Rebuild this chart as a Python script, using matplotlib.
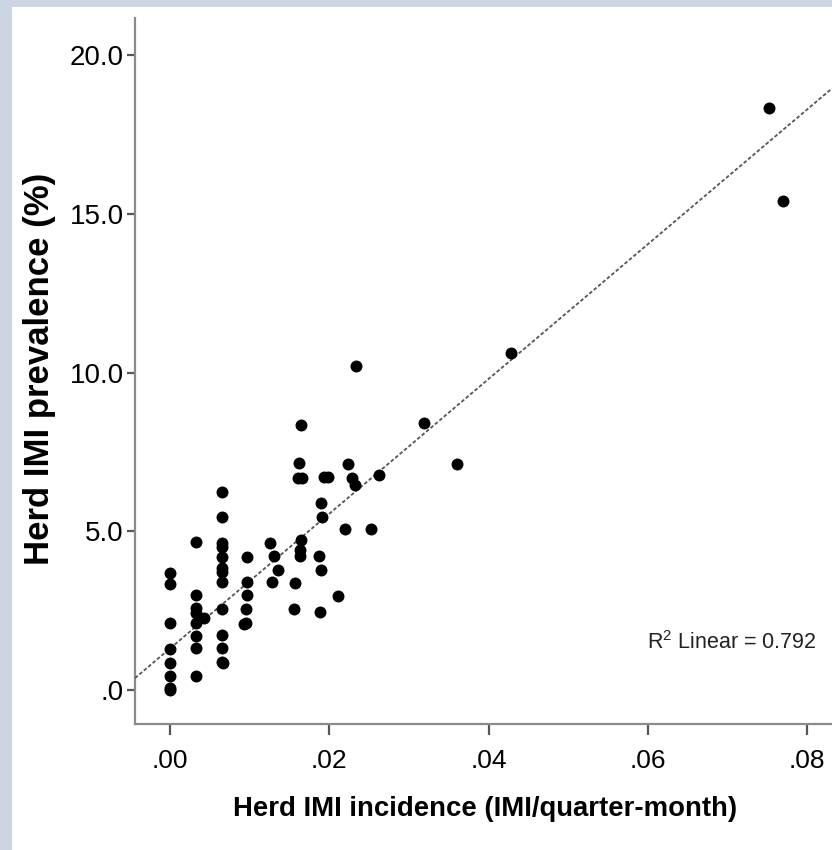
import matplotlib
matplotlib.use("Agg")
import matplotlib.pyplot as plt
from matplotlib.patches import Rectangle
from matplotlib.ticker import FixedLocator
import numpy as np

# Data (incidence, prevalence)
incidence = [
    0.0, 0.0, 0.0, 0.0, 0.0, 0.0, 0.0, 0.0,
    0.0032, 0.0032, 0.0032, 0.0032, 0.0032, 0.0032, 0.0032, 0.0032,
    0.0043,
    0.0065, 0.0065, 0.0065, 0.0065, 0.0065, 0.0065, 0.0065, 0.0065,
    0.0065, 0.0065, 0.0065, 0.0065, 0.0066,
    0.0096, 0.0096, 0.0096, 0.0095, 0.0095, 0.0093,
    0.0126, 0.0130, 0.0135, 0.0128,
    0.0164, 0.0162, 0.0160, 0.0166, 0.0164, 0.0163, 0.0163, 0.0157, 0.0155,
    0.0193, 0.0198, 0.0189, 0.0191, 0.0187, 0.0189, 0.0188,
    0.0211, 0.0220, 0.0224, 0.0229, 0.0232, 0.0234, 0.0252, 0.0262,
    0.0319, 0.0360, 0.0428, 0.0752, 0.0769,
]
prevalence = [
    3.70, 3.35, 2.10, 1.30, 0.85, 0.45, 0.05, 0.0,
    4.65, 2.99, 2.57, 2.42, 2.10, 1.70, 1.31, 0.45,
    2.26,
    6.25, 5.46, 4.64, 4.50, 4.20, 3.83, 3.73, 3.41,
    2.54, 1.72, 1.31, 0.89, 0.84,
    4.20, 3.40, 3.00, 2.55, 2.12, 2.08,
    4.64, 4.22, 3.78, 3.41,
    8.35, 7.14, 6.67, 6.67, 4.72, 4.42, 4.22, 3.38, 2.54,
    6.70, 6.70, 5.88, 5.46, 4.22, 3.78, 2.45,
    2.96, 5.06, 7.12, 6.67, 6.46, 10.20, 5.06, 6.77,
    8.42, 7.11, 10.61, 18.34, 15.41,
]
# fit line as drawn in the original (slope, intercept)
fit_slope = 212.3
fit_intercept = 1.31
x_ticks = [0.0, 0.02, 0.04, 0.06, 0.08]
x_ticklabels = [".00", ".02", ".04", ".06", ".08"]
y_ticks = [0.0, 5.0, 10.0, 15.0, 20.0]
y_ticklabels = [".0", "5.0", "10.0", "15.0", "20.0"]
r2_text = "0.792"

FONT = ["Liberation Sans", "DejaVu Sans"]
SPINE_GREY = "#8a8a8a"

plt.rcParams["mathtext.fontset"] = "custom"
plt.rcParams["mathtext.rm"] = "Liberation Sans"
plt.rcParams["mathtext.default"] = "regular"

fig = plt.figure(figsize=(8.32, 8.5), dpi=100)
fig.patch.set_facecolor("#cdd5e2")
# white panel inside the grey frame
fig.patches.append(Rectangle((12 / 832, 0), 1, 1 - 7 / 850,
                             transform=fig.transFigure, facecolor="white",
                             edgecolor="none", zorder=-1))

ax = fig.add_axes([135 / 832, 1 - 724 / 850, 1 - 135 / 832, (724 - 18) / 850])
ax.set_facecolor("none")

x = np.array(incidence)
y = np.array(prevalence)
ax.plot(x, y, "o", color="black", markersize=8.6, markeredgewidth=0, zorder=5,
        clip_on=False)

xl = np.array([-0.0044, 0.0831])
ax.plot(xl, fit_slope * xl + fit_intercept, color="#555555", linewidth=1.3,
        linestyle=(0, (2.0, 1.2)), zorder=4)

ax.set_xlim(-0.0044, 0.0831)
ax.set_ylim(-1.07, 21.17)

ax.xaxis.set_major_locator(FixedLocator(x_ticks))
ax.yaxis.set_major_locator(FixedLocator(y_ticks))
ax.set_xticklabels(x_ticklabels, fontsize=19, family=FONT)
ax.set_yticklabels(y_ticklabels, fontsize=20, family=FONT)

for s in ["top", "right"]:
    ax.spines[s].set_visible(False)
for s in ["left", "bottom"]:
    ax.spines[s].set_color(SPINE_GREY)
    ax.spines[s].set_linewidth(1.6)

ax.tick_params(axis="x", direction="out", length=8, width=1.6,
               color="#555555", pad=10)
ax.tick_params(axis="y", direction="out", length=6, width=1.6,
               color="#555555", pad=2)

fig.text(485 / 832, 1 - 809 / 850, "Herd IMI incidence (IMI/quarter-month)",
         ha="center", va="center", fontsize=19.8, fontweight="bold",
         family=FONT)
fig.text(40 / 832, 1 - 369 / 850, "Herd IMI prevalence (%)",
         ha="center", va="center", rotation=90, fontsize=25,
         fontweight="bold", family=FONT)

ax.text(817 / 832, 1 - 643 / 850, "R$^{2}$ Linear = " + r2_text,
        transform=fig.transFigure, ha="right", va="center",
        fontsize=15.5, family=FONT, color="#222222")

fig.savefig("out.png", dpi=100, facecolor=fig.get_facecolor())
